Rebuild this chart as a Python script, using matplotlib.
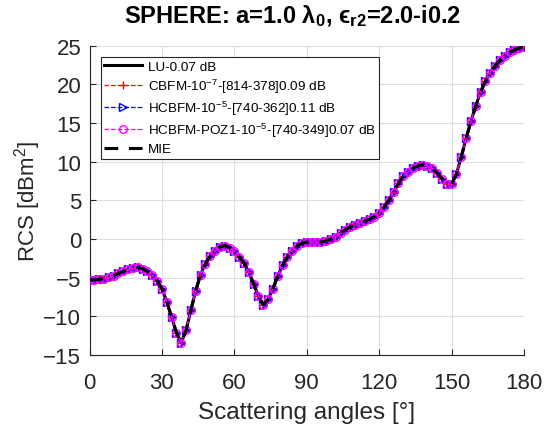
import numpy as np
import matplotlib
matplotlib.use("Agg")
import matplotlib.pyplot as plt

plt.rcParams['font.family'] = ['Liberation Sans', 'DejaVu Sans']
plt.rcParams['mathtext.fontset'] = 'custom'
plt.rcParams['mathtext.rm'] = 'Liberation Sans'
plt.rcParams['mathtext.it'] = 'Liberation Sans'
plt.rcParams['mathtext.bf'] = 'Liberation Sans:bold'

angles = list(range(0, 181, 2))
rcs_mie = [
    -5.30, -5.28, -5.22, -5.12, -4.95, -4.72, -4.45, -4.18, -3.92, -3.72,
    -3.68, -3.85, -4.20, -4.70, -5.40, -6.40, -8.10, -10.10, -12.10, -13.40,
    -11.80, -9.20, -6.70, -4.60, -3.20, -2.20, -1.50, -1.00, -0.85, -1.10,
    -1.60, -2.30, -3.10, -4.30, -5.80, -7.40, -8.50, -7.80, -6.40, -4.80,
    -3.40, -2.30, -1.50, -0.90, -0.55, -0.40, -0.35, -0.40, -0.40, -0.25,
    0.00, 0.30, 0.75, 1.20, 1.55, 1.85, 2.10, 2.30, 2.55, 2.90,
    3.40, 4.10, 5.00, 6.10, 7.20, 8.10, 8.70, 9.15, 9.45, 9.60,
    9.50, 9.15, 8.50, 7.80, 7.10, 7.10, 8.40, 10.60, 13.00, 15.20,
    17.20, 19.00, 20.40, 21.50, 22.40, 23.10, 23.70, 24.15, 24.45, 24.70,
    24.80,
]
rcs_lu = rcs_mie
rcs_cbfm = rcs_mie
rcs_hcbfm = rcs_mie
rcs_poz1 = rcs_mie

labels = [
    "LU-0.07 dB",
    "CBFM-10$^{-7}$-[814-378]0.09 dB",
    "HCBFM-10$^{-5}$-[740-362]0.11 dB",
    "HCBFM-POZ1-10$^{-5}$-[740-349]0.07 dB",
    "MIE",
]
xticks = [0, 30, 60, 90, 120, 150, 180]
yticks = [-15, -10, -5, 0, 5, 10, 15, 20, 25]

fig = plt.figure(figsize=(5.47, 4.35), dpi=100)
ax = fig.add_axes([89.5/547, 1-356/435, (524-89.5)/547, (356-46.7)/435])

ax.plot(angles, rcs_lu, color='black', lw=2.2, ls='-', label=labels[0], zorder=3)
ax.plot(angles, rcs_cbfm, color='red', lw=0.9, ls='--', marker='+', ms=6,
        mew=1.0, label=labels[1], zorder=4)
ax.plot(angles, rcs_hcbfm, color='blue', lw=0.9, ls='--', marker='>', ms=5.5,
        mfc='none', mew=1.0, label=labels[2], zorder=4)
ax.plot(angles, rcs_poz1, color='magenta', lw=0.9, ls='--', marker='o', ms=5.5,
        mfc='none', mew=1.0, label=labels[3], zorder=5)
ax.plot(angles, rcs_mie, color='black', lw=2.2, ls=(0, (4.5, 3.5)), label=labels[4],
        zorder=6)

ax.set_xlim(0, 180)
ax.set_ylim(-15, 25)
ax.set_xticks(xticks)
ax.set_yticks(yticks)
ax.grid(True, color='#dedede', lw=0.8)
ax.set_axisbelow(True)
for s in ['top', 'right']:
    ax.spines[s].set_visible(False)
for s in ['left', 'bottom']:
    ax.spines[s].set_color('#262626')
    ax.spines[s].set_linewidth(0.8)
ax.tick_params(direction='in', length=4, width=0.8, color='#262626',
               labelsize=16, labelcolor='#262626')
ax.tick_params(axis='x', pad=12)
ax.tick_params(axis='y', pad=6)

ax.set_xlabel("Scattering angles [°]", fontsize=17.5, color='#262626', labelpad=6)
ax.set_ylabel("RCS [dBm$^2$]", fontsize=16, color='#262626', labelpad=0)
fig.text(292.5/547, 1-22.7/435,
         "SPHERE: a=1.0 λ$_\\mathbf{0}$, ϵ$_\\mathbf{r2}$=2.0-i0.2",
         fontsize=17, fontweight='bold', ha='center', va='baseline')

leg = ax.legend(loc='upper left', bbox_to_anchor=((101-89.5)/434.5, (356-58.3)/309.3),
                fontsize=9.7, frameon=True, fancybox=False, edgecolor='#262626',
                framealpha=1, borderaxespad=0, handlelength=2.8, labelspacing=0.28,
                borderpad=0.25, handletextpad=0.45)
leg.get_frame().set_linewidth(0.8)

fig.savefig("out.png", dpi=100)
